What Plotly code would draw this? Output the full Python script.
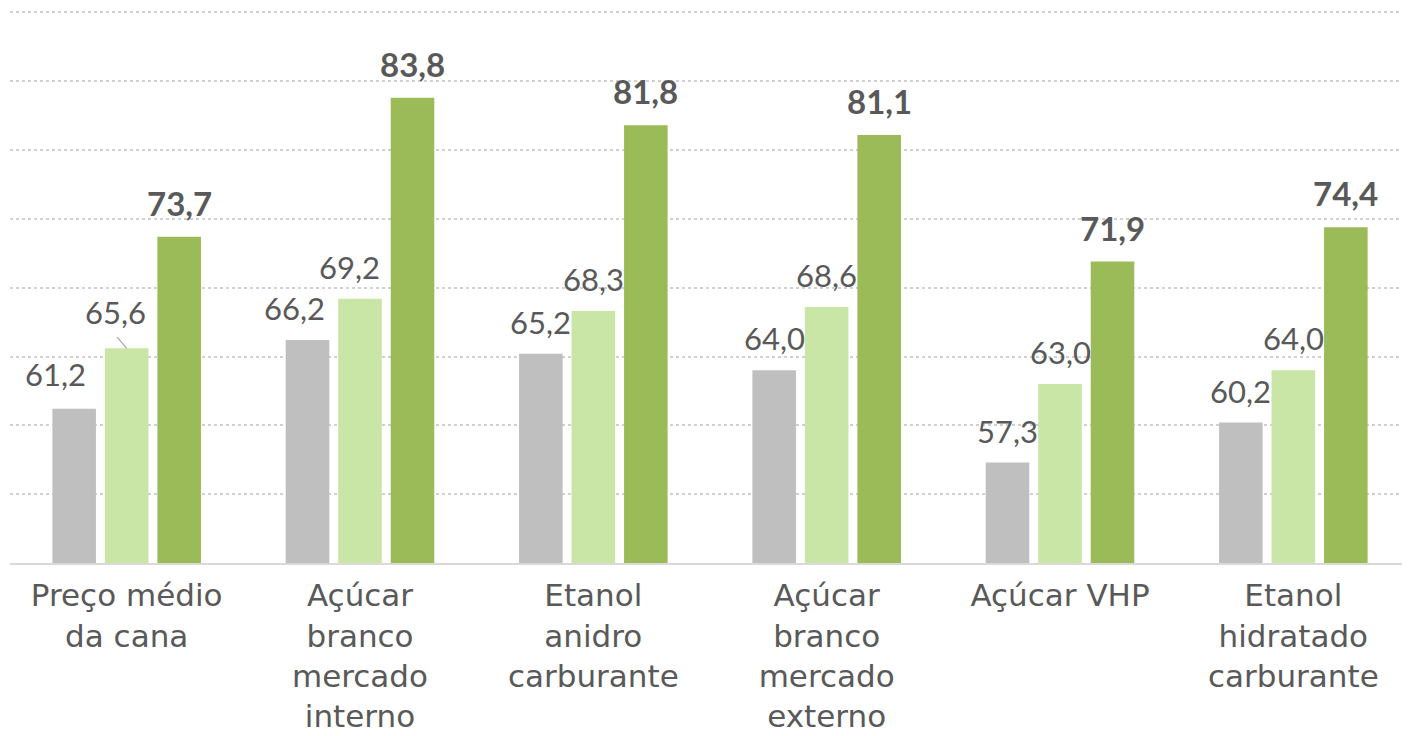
import plotly.graph_objects as go

categories = [
    "Preço médio<br>da cana",
    "Açúcar<br>branco<br>mercado<br>interno",
    "Etanol<br>anidro<br>carburante",
    "Açúcar<br>branco<br>mercado<br>externo",
    "Açúcar VHP",
    "Etanol<br>hidratado<br>carburante",
]
serie_1 = [61.2, 66.2, 65.2, 64.0, 57.3, 60.2]
serie_2 = [65.6, 69.2, 68.3, 68.6, 63.0, 64.0]
serie_3 = [73.7, 83.8, 81.8, 81.1, 71.9, 74.4]

colors = ["#bfbfbf", "#c9e6a6", "#9bbb59"]
text_color = "#595959"
NUM_FONT = "Lato"
CAT_FONT = "DejaVu Sans"
BARGAP = 0.325

fig = go.Figure()
for vals, col, nm in zip([serie_1, serie_2, serie_3], colors, ["Série 1", "Série 2", "Série 3"]):
    fig.add_trace(go.Bar(x=categories, y=vals, name=nm, marker=dict(color=col, line=dict(width=0)),
                         showlegend=False, hoverinfo="x+y"))

def fmt(v):
    return f"{v:.1f}".replace(".", ",")

slot = (1 - BARGAP) / 3
# label pixel offsets (styling) for manually placed labels
xoff = {(0, 0): -19, (0, 1): -11, (1, 0): -13, (1, 1): -11}
yoff = {(0, 0): 3, (0, 1): 4}

annotations = []
for s, vals in enumerate([serie_1, serie_2, serie_3]):
    for i, v in enumerate(vals):
        bold = s == 2
        annotations.append(dict(
            x=i + (s - 1) * slot, y=v, xref="x", yref="y",
            text=f"<b>{fmt(v)}</b>" if bold else fmt(v),
            showarrow=False, yanchor="bottom", xanchor="center",
            xshift=xoff.get((i, s), 0),
            yshift=(12 if bold else 11) + yoff.get((i, s), 0),
            font=dict(family=NUM_FONT, size=33 if bold else 31, color=text_color),
        ))
# leader line for 65,6
annotations.append(dict(
    x=0, y=serie_2[0], xref="x", yref="y", text=" ",
    showarrow=True, arrowhead=0, arrowwidth=1.2, arrowcolor="#a6a6a6",
    ax=-11, ay=-13, standoff=0, font=dict(size=1),
))

fig.update_layout(
    width=1402, height=728,
    margin=dict(l=2, r=0, t=1, b=173),
    paper_bgcolor="white", plot_bgcolor="white",
    barmode="group", bargap=BARGAP, bargroupgap=0.17,
    annotations=annotations,
    font=dict(family=CAT_FONT, color=text_color),
    xaxis=dict(showline=True, linecolor="#d9d9d9", linewidth=2, ticks="",
               tickfont=dict(family=CAT_FONT, size=31, color=text_color),
               ticklabelstandoff=4, showgrid=False),
    yaxis=dict(range=[50, 90.25], dtick=5, tick0=50, showticklabels=False, showgrid=True,
               gridcolor="#d0d0d0", griddash="dot", gridwidth=1.5,
               zeroline=False, showline=False),
)

fig.write_html("out.html")
